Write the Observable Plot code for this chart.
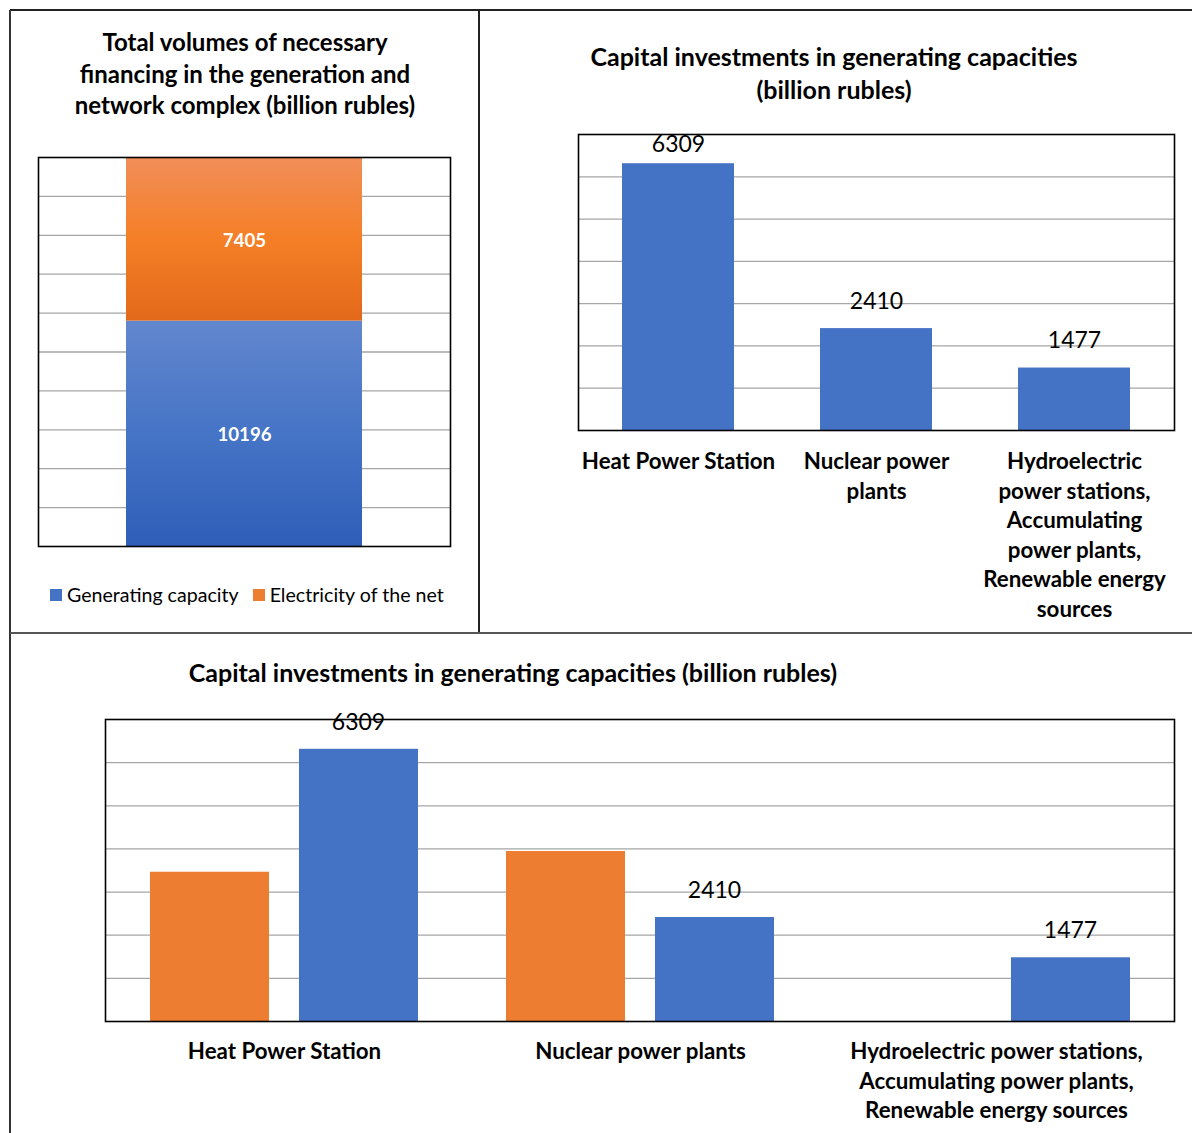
<!DOCTYPE html>
<html>
<head>
<meta charset="utf-8">
<script src="https://cdn.jsdelivr.net/npm/d3@7"></script>
<script src="https://cdn.jsdelivr.net/npm/@observablehq/plot@0.6"></script>
<style>
  body { margin: 0; background: #fff; }
  #root { position: relative; width: 1192px; height: 1133px; background: #fff; font-family: Lato, "Noto Sans", sans-serif; color: #000; overflow: hidden; }
  .abs { position: absolute; }
  .line { position: absolute; }
  .title { position: absolute; text-align: center; font-weight: bold; white-space: nowrap; }
  .legend { position: absolute; font-size: 19.6px; display: flex; align-items: center; white-space: nowrap; }
  .sw { display: inline-block; width: 12px; height: 12px; margin-right: 5px; }
</style>
</head>
<body>
<div id="root"></div>
<script>
// ---------- data ----------
const stackCategory = ["Total"];
const stackSeries = ["Generating capacity", "Electricity of the net"];
const stackValues = [10196, 7405];

const capCategories = ["Heat Power Station", "Nuclear power plants", "Hydroelectric power stations, Accumulating power plants, Renewable energy sources"];
const capLabelsTop = ["Heat Power Station", "Nuclear power\nplants", "Hydroelectric\npower stations,\nAccumulating\npower plants,\nRenewable energy\nsources"];
const capLabelsBottom = ["Heat Power Station", "Nuclear power plants", "Hydroelectric power stations,\nAccumulating power plants,\nRenewable energy sources"];
const capValues = [6309, 2410, 1477];
const otherValues = [3460, 3940, null]; // orange series of the bottom chart (no labels)
const stackGridTicks = [0.1, 0.2, 0.3, 0.4, 0.5, 0.6, 0.7, 0.8, 0.9];
const capGridTicks = [1000, 2000, 3000, 4000, 5000, 6000];
const capDomain = [0, 7000];

const BLUE = "#4472C4", ORANGE = "#ED7D31", GRID = "#a6a6a6";

const stackData = stackSeries.map((s, i) => ({cat: stackCategory[0], series: s, value: stackValues[i]}));
const capData = capCategories.map((c, i) => ({category: c, value: capValues[i], other: otherValues[i], labelTop: capLabelsTop[i], labelBottom: capLabelsBottom[i]}));

const root = document.getElementById("root");
function place(el, left, top) {
  const d = document.createElement("div");
  d.className = "abs";
  d.style.left = left + "px"; d.style.top = top + "px";
  d.appendChild(el);
  root.appendChild(d);
  return d;
}
function line(left, top, w, h, color) {
  const d = document.createElement("div");
  d.className = "line";
  Object.assign(d.style, {left: left + "px", top: top + "px", width: w + "px", height: h + "px", background: color});
  root.appendChild(d);
}
function title(text, left, top, width, fontSize, lineHeight) {
  const d = document.createElement("div");
  d.className = "title";
  Object.assign(d.style, {left: left + "px", top: top + "px", width: width + "px", fontSize: fontSize + "px", lineHeight: lineHeight + "px"});
  d.innerHTML = text;
  root.appendChild(d);
}

// ---------- panel borders ----------
line(10, 9, 1182, 2, "#222");
line(8.5, 10, 2, 1123, "#333");
line(478, 10, 2, 622, "#222");
line(10, 631.5, 1182, 2, "#555");

// ---------- chart 1: 100% stacked column ----------
title("Total volumes of necessary<br>financing in the generation and<br>network complex (billion rubles)", 10, 26, 470, 24, 31.5);

const gradMark = () => {
  const ns = "http://www.w3.org/2000/svg";
  const defs = document.createElementNS(ns, "defs");
  defs.innerHTML = `
    <linearGradient id="gBlue" x1="0" y1="0" x2="0" y2="1">
      <stop offset="0" stop-color="#6287CE"/><stop offset="0.5" stop-color="#4674C6"/><stop offset="1" stop-color="#2E5EB8"/>
    </linearGradient>
    <linearGradient id="gOrange" x1="0" y1="0" x2="0" y2="1">
      <stop offset="0" stop-color="#F18E58"/><stop offset="0.5" stop-color="#F57F27"/><stop offset="1" stop-color="#E2691A"/>
    </linearGradient>`;
  return defs;
};

const chart1 = Plot.plot({
  width: 460, height: 420,
  marginLeft: 28, marginRight: 20, marginTop: 17, marginBottom: 14,
  x: {domain: stackCategory, paddingInner: 0.2716, paddingOuter: 0.2716, axis: null},
  y: {domain: [0, 1], axis: null},
  color: {domain: stackSeries, range: ["url(#gBlue)", "url(#gOrange)"]},
  style: {fontFamily: "Lato, sans-serif", overflow: "visible", background: "transparent"},
  marks: [
    gradMark,
    Plot.ruleY(stackGridTicks, {stroke: GRID, strokeWidth: 1.3}),
    Plot.barY(stackData, Plot.stackY({x: "cat", y: "value", fill: "series", offset: "normalize"})),
    Plot.text(stackData, Plot.stackY({x: "cat", y: "value", text: d => String(d.value), offset: "normalize", dy: 1.5, fill: "#fff", fontSize: 18.7, fontWeight: "bold"})),
    Plot.frame({stroke: "#000", strokeWidth: 1.6})
  ]
});
place(chart1, 10, 140);

const leg = document.createElement("div");
leg.className = "legend";
leg.style.left = "50px"; leg.style.top = "583px";
leg.innerHTML = `<span class="sw" style="background:${BLUE}"></span><span>${stackSeries[0]}</span><span class="sw" style="background:${ORANGE};margin-left:14px"></span><span>${stackSeries[1]}</span>`;
root.appendChild(leg);

// ---------- chart 2: column chart ----------
title("Capital investments in generating capacities<br>(billion rubles)", 584, 40, 500, 25, 33);

const nearTop = d => d.value / capDomain[1] > 0.88;  // Excel keeps such labels inside the plot area
const chart2 = Plot.plot({
  width: 632, height: 510,
  marginLeft: 18, marginRight: 18, marginTop: 14, marginBottom: 200,
  x: {domain: capCategories, paddingInner: 0.436, paddingOuter: 0.218, axis: null},
  y: {domain: capDomain, axis: null},
  style: {fontFamily: "Lato, sans-serif", overflow: "visible", background: "transparent"},
  marks: [
    Plot.ruleY(capGridTicks, {stroke: GRID, strokeWidth: 1.3}),
    Plot.barY(capData, {x: "category", y: "value", fill: BLUE}),
    Plot.frame({stroke: "#000", strokeWidth: 1.6}),
    Plot.text(capData.filter(d => !nearTop(d)), {x: "category", y: "value", text: d => String(d.value), dy: -27, fontSize: 23, fill: "#000"}),
    Plot.text(capData.filter(nearTop), {x: "category", y: "value", text: d => String(d.value), dy: -19, fontSize: 23, fill: "#000"}),
    Plot.text(capData, {x: "category", text: "labelTop", frameAnchor: "bottom", lineAnchor: "top", dy: 18, fontSize: 22.3, fontWeight: "bold", lineHeight: 1.32, fill: "#000"})
  ]
});
place(chart2, 560, 120);

// ---------- chart 3: grouped column chart ----------
title("Capital investments in generating capacities (billion rubles)", 13, 656, 1000, 25, 32);

const chart3 = Plot.plot({
  width: 1102, height: 433,
  marginLeft: 15, marginRight: 18, marginTop: 19, marginBottom: 112,
  x: {domain: capCategories, paddingInner: 0, paddingOuter: 0, axis: null},
  y: {domain: capDomain, axis: null},
  style: {fontFamily: "Lato, sans-serif", overflow: "visible", background: "transparent"},
  marks: [
    Plot.ruleY(capGridTicks, {stroke: GRID, strokeWidth: 1.3}),
    Plot.barY(capData.filter(d => d.other != null), {x: "category", y: "other", fill: ORANGE, insetLeft: 44, insetRight: 193}),
    Plot.barY(capData, {x: "category", y: "value", fill: BLUE, insetLeft: 193, insetRight: 44}),
    Plot.frame({stroke: "#000", strokeWidth: 1.6}),
    Plot.text(capData, {x: "category", y: "value", text: d => String(d.value), dx: 74, dy: -27, fontSize: 23, fill: "#000"}),
    Plot.text(capData, {x: "category", text: "labelBottom", frameAnchor: "bottom", lineAnchor: "top", dy: 17, fontSize: 22.3, fontWeight: "bold", lineHeight: 1.32, fill: "#000"})
  ]
});
place(chart3, 90, 700);
</script>
</body>
</html>
